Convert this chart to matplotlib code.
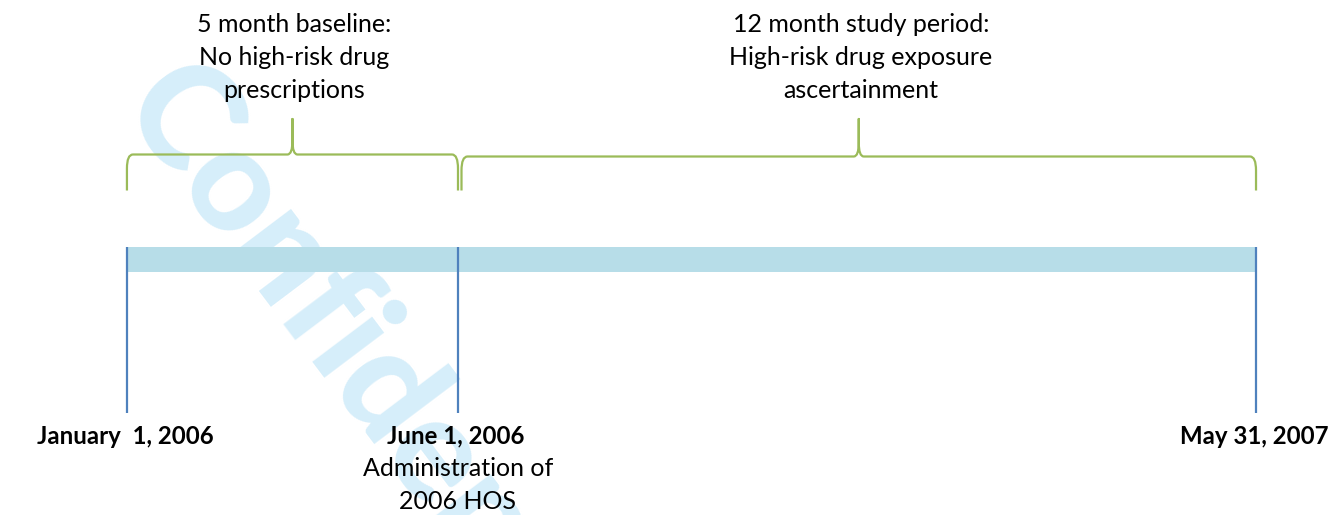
import numpy as np
import matplotlib
matplotlib.use('Agg')
from matplotlib import pyplot as plt
from matplotlib.path import Path
from matplotlib.patches import PathPatch
import matplotlib.dates as mdates
from datetime import date

# timeline milestones
milestone_dates = [date(2006, 1, 1), date(2006, 6, 1), date(2007, 5, 31)]
milestone_labels = ['January  1, 2006', 'June 1, 2006', 'May 31, 2007']
milestone_notes = [[], ['Administration of', '2006 HOS'], []]

# periods marked with braces
period_starts = [date(2006, 1, 1), date(2006, 6, 1)]
period_ends = [date(2006, 6, 1), date(2007, 5, 31)]
period_labels = [['5 month baseline:', 'No high-risk drug', 'prescriptions'],
                 ['12 month study period:', 'High-risk drug exposure', 'ascertainment']]

BAR_COLOR = '#b7dde8'
LINE_COLOR = '#4f81bd'
BRACE_COLOR = '#9bbb59'
MARK_COLOR = '#d6eefa'

plt.rcParams['font.family'] = ['Lato', 'DejaVu Sans']

W, H = 1331, 515
fig = plt.figure(figsize=(W / 100, H / 100), dpi=100)
ax = fig.add_axes([0, 0, 1, 1])
ax.patch.set_visible(False)
ax.axis('off')

d = mdates.date2num(milestone_dates)
ax.set_xlim(d[0] - 57.9, d[-1] + 34.2)
ax.set_ylim(H, 0)  # vertical layout in pixel-like units, top down
px_per_day = W / (ax.get_xlim()[1] - ax.get_xlim()[0])


def brace(x0, x1, y_line, y_end, y_tip, color):
    r = 6 / px_per_day     # width of the end curls
    t = 5 / px_per_day     # half-width of the centre spike
    xm = (x0 + x1) / 2
    verts = [
        (x0, y_end), (x0, y_line + 14),
        (x0, y_line), (x0 + r, y_line),
        (xm - t, y_line),
        (xm, y_line), (xm, y_line - 14),
        (xm, y_tip),
        (xm, y_line - 14),
        (xm, y_line), (xm + t, y_line),
        (x1 - r, y_line),
        (x1, y_line), (x1, y_line + 14),
        (x1, y_end),
    ]
    codes = [Path.MOVETO, Path.LINETO,
             Path.CURVE3, Path.CURVE3,
             Path.LINETO,
             Path.CURVE3, Path.CURVE3,
             Path.LINETO,
             Path.LINETO,
             Path.CURVE3, Path.CURVE3,
             Path.LINETO,
             Path.CURVE3, Path.CURVE3,
             Path.LINETO]
    ax.add_patch(PathPatch(Path(verts, codes), facecolor='none',
                           edgecolor=color, lw=1.6, capstyle='butt',
                           joinstyle='round', zorder=3))


# watermark, anchored at the start of its baseline
ax.text(116 / W, 1 - 108 / H, 'Confidential', transform=ax.transAxes,
        rotation=-53, rotation_mode='anchor', ha='left', va='baseline',
        fontsize=104, fontweight='black', color=MARK_COLOR, zorder=0,
        clip_on=False)

# timeline bar
starts = mdates.date2num(period_starts)
ends = mdates.date2num(period_ends)
ax.barh(259.5, ends - starts, left=starts, height=25, color=BAR_COLOR,
        zorder=1, linewidth=0)

# milestone ticks and labels
for i, x in enumerate(d):
    ax.plot([x, x], [247, 412.5], color=LINE_COLOR, lw=1.6, zorder=2,
            solid_capstyle='butt')
    ax.text(x - 2 / px_per_day, 436, milestone_labels[i], ha='center',
            va='center', fontsize=17.3, fontweight='bold', color='black')
    for j, note in enumerate(milestone_notes[i]):
        ax.text(x, 469 + 32.5 * j, note, ha='center', va='center',
                fontsize=18, color='black')

# braces and period labels
gaps = [0, 1.6]
brace_y = [154.5, 156.5]
for i in range(len(starts)):
    x0 = starts[i] + gaps[i]
    x1 = ends[i]
    brace(x0, x1, brace_y[i], 190.5, 119, BRACE_COLOR)
    xm = (x0 + x1) / 2
    for j, line in enumerate(period_labels[i]):
        ax.text(xm + 2 / px_per_day, 25 + 32.5 * j, line, ha='center',
                va='center', fontsize=18, color='black')

fig.savefig('out.png', dpi=100)
